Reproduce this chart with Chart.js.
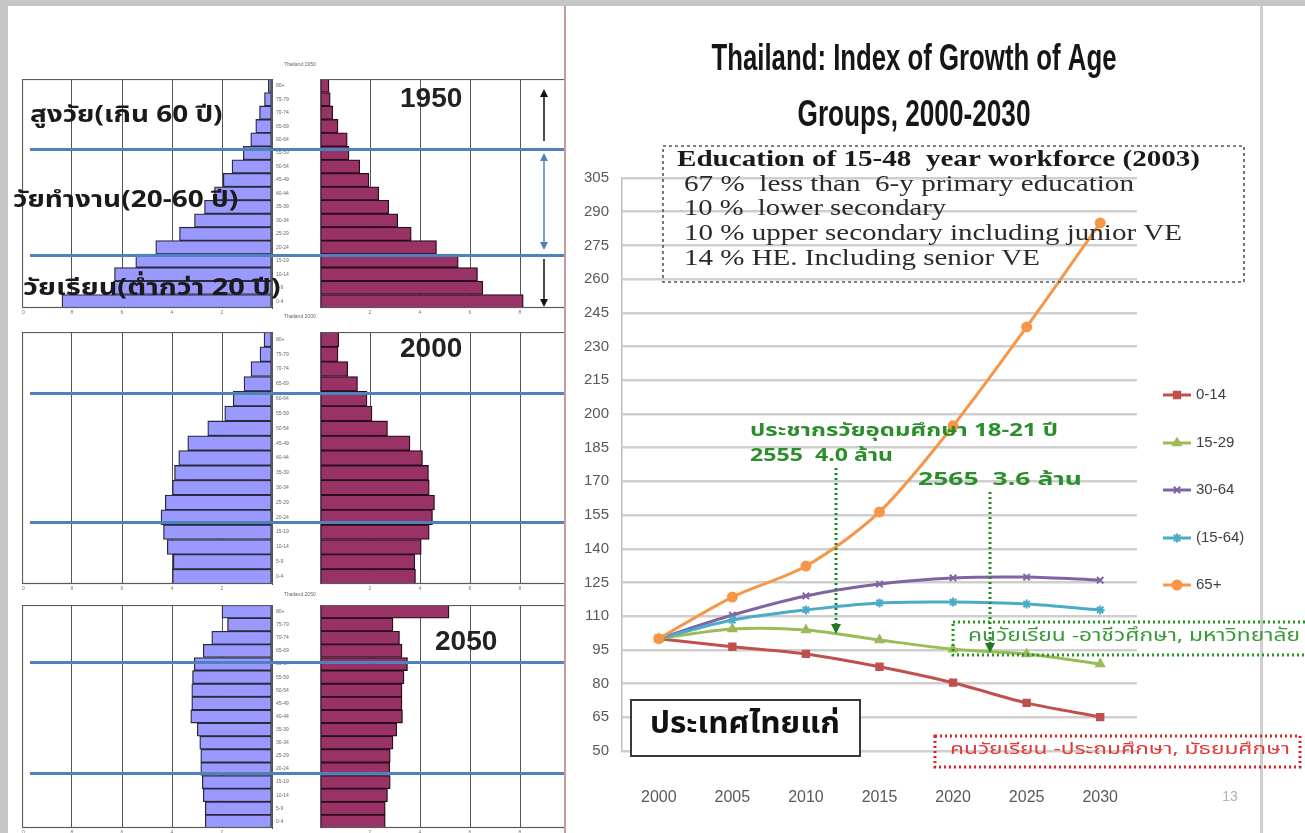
<!DOCTYPE html>
<html><head><meta charset="utf-8">
<script src="https://cdn.jsdelivr.net/npm/chart.js@4.4.0/dist/chart.umd.min.js"></script>
<style>
html,body{margin:0;padding:0;width:1305px;height:833px;overflow:hidden;background:#fff;}
.abs{position:absolute;}
#left{position:absolute;left:0;top:0;width:565px;height:833px;overflow:hidden;background:#fff;}
#topbar{position:absolute;left:0;top:0;width:1305px;height:6px;background:#c6c6c6;z-index:20;}
#leftbar{position:absolute;left:0;top:0;width:8px;height:833px;background:#c6c6c6;z-index:20;}
#divider{position:absolute;left:564px;top:6px;width:2px;height:827px;background:#c79a9a;z-index:20;}
#rborder{position:absolute;left:1260px;top:6px;width:3px;height:827px;background:#cfcfcf;z-index:0;}
.thai{font-family:'Noto Sans Thai','Noto Sans Thai UI','Loma','Garuda','Tlwg Typo','Tahoma',sans-serif;}
.lbl{position:absolute;font-weight:bold;color:#1a1a1a;font-size:23px;line-height:30px;white-space:nowrap;z-index:10;transform-origin:0 50%;}
.yr{position:absolute;font-family:'Liberation Sans',Arial,sans-serif;font-weight:bold;font-size:28px;line-height:30px;color:#222;z-index:10;}
.tiny{position:absolute;font-family:'Liberation Sans',Arial,sans-serif;font-size:5px;color:#666;z-index:10;white-space:nowrap;}
.sep{position:absolute;height:3px;background:#4f81bd;z-index:9;}
</style>
</head><body>
<div id="topbar"></div><div id="leftbar"></div>
<div id="left">
  <canvas id="m1950" class="abs" width="298" height="243" style="left:22px;top:79px"></canvas>
  <canvas id="f1950" class="abs" width="250" height="243" style="left:320px;top:79px"></canvas>
  <canvas id="m2000" class="abs" width="298" height="266" style="left:22px;top:332px"></canvas>
  <canvas id="f2000" class="abs" width="250" height="266" style="left:320px;top:332px"></canvas>
  <canvas id="m2050" class="abs" width="298" height="237" style="left:22px;top:605px"></canvas>
  <canvas id="f2050" class="abs" width="250" height="237" style="left:320px;top:605px"></canvas>

  <div class="tiny" style="left:284px;top:61px">Thailand 1950</div>
  <div class="tiny" style="left:284px;top:313px">Thailand 2000</div>
  <div class="tiny" style="left:284px;top:591px">Thailand 2050</div>

  <div class="sep" style="left:30px;top:148px;width:535px"></div>
  <div class="sep" style="left:30px;top:254px;width:535px"></div>
  <div class="sep" style="left:30px;top:392px;width:535px"></div>
  <div class="sep" style="left:30px;top:521px;width:535px"></div>
  <div class="sep" style="left:30px;top:661px;width:535px"></div>
  <div class="sep" style="left:30px;top:772px;width:535px"></div>

  <div class="lbl thai fit" data-w="193" style="left:30px;top:100px">สูงวัย(เกิน 60 ปี)</div>
  <div class="lbl thai fit" data-w="225" style="left:13px;top:185px">วัยทำงาน(20-60 ปี)</div>
  <div class="lbl thai fit" data-w="258" style="left:23px;top:273px">วัยเรียน(ต่ำกว่า 20 ปี)</div>
  <div class="yr" style="left:400px;top:83px">1950</div>
  <div class="yr" style="left:400px;top:333px">2000</div>
  <div class="yr" style="left:435px;top:626px">2050</div>

  <svg class="abs" style="left:530px;top:85px;z-index:10" width="30" height="226">
    <line x1="14" y1="12" x2="14" y2="56" stroke="#111" stroke-width="1.5"/>
    <polygon points="10,12 18,12 14,4" fill="#111"/>
    <line x1="14" y1="76" x2="14" y2="157" stroke="#4f81bd" stroke-width="1.5"/>
    <polygon points="10,76 18,76 14,68" fill="#4f81bd"/>
    <polygon points="10,157 18,157 14,165" fill="#4f81bd"/>
    <line x1="14" y1="174" x2="14" y2="214" stroke="#111" stroke-width="1.5"/>
    <polygon points="10,214 18,214 14,222" fill="#111"/>
  </svg>
</div>
<div id="divider"></div>
<div id="rborder"></div>
<canvas id="line" class="abs" width="740" height="833" style="left:565px;top:0px;z-index:5"></canvas>

<script>
// ---------- data ----------
const ageGroups = ['80+','75-79','70-74','65-69','60-64','55-59','50-54','45-49','40-44','35-39','30-34','25-29','20-24','15-19','10-14','5-9','0-4'];
const male1950   = [0.15,0.3,0.5,0.65,0.85,1.15,1.6,1.95,2.3,2.7,3.1,3.7,4.65,5.45,6.3,6.35,8.4];
const female1950 = [0.36,0.41,0.51,0.72,1.09,1.16,1.59,1.96,2.35,2.75,3.11,3.65,4.66,5.53,6.3,6.51,8.13];
const male2000   = [0.32,0.48,0.84,1.12,1.55,1.89,2.57,3.37,3.73,3.9,3.98,4.27,4.44,4.34,4.19,3.95,3.98];
const female2000 = [0.75,0.72,1.11,1.5,1.88,2.08,2.7,3.6,4.1,4.34,4.37,4.58,4.5,4.37,4.05,3.79,3.82];
const male2050   = [2.0,1.78,2.41,2.75,3.11,3.18,3.21,3.21,3.25,2.99,2.89,2.85,2.85,2.79,2.75,2.67,2.67];
const female2050 = [5.16,2.92,3.18,3.28,3.5,3.36,3.28,3.28,3.3,3.07,2.92,2.81,2.79,2.81,2.7,2.61,2.61];
const pyramidTicks = [0,2,4,6,8,10];

const years = ['2000','2005','2010','2015','2020','2025','2030'];
const idx0_14  = [100,96.4,93.2,87.5,80.4,71.4,65.1];
const idx15_29 = [100,104.3,103.9,99.4,95.3,93.2,88.7];
const idx30_64 = [100,110.5,119,124.3,127,127.4,126];
const idx15_64 = [100,108.3,112.8,115.9,116.3,115.4,112.8];
const idx65    = [100,118.5,132.3,156.4,194.7,238.7,285];
const seriesNames = ['0-14','15-29','30-64','(15-64)','65+'];
const indexTicks = [50,65,80,95,110,125,140,155,170,185,200,215,230,245,260,275,290,305];

const titleLines = ['Thailand: Index of Growth of Age','Groups, 2000-2030'];
const eduTitle = 'Education of 15-48  year workforce (2003)';
const eduLines = ['67 %  less than  6-y primary education','10 %  lower secondary','10 % upper secondary including junior VE','14 % HE. Including senior VE'];

// fit Thai HTML labels horizontally
document.querySelectorAll('.fit').forEach(el=>{
  const k = parseFloat(el.dataset.w)/el.offsetWidth;
  el.style.transform = 'scaleX('+k.toFixed(3)+')';
});

// ---------- pyramids ----------
const THAI = "'Noto Sans Thai','Noto Sans Thai UI','Loma','Garuda','Tlwg Typo','Tahoma',sans-serif";
const framePlugin = {id:'frame', afterDatasetsDraw(c){const a=c.chartArea,g=c.ctx;g.save();g.strokeStyle='#5a5a5a';g.lineWidth=1.2;g.strokeRect(a.left+0.5,a.top+0.5,a.width-1,a.height-1);g.restore();}};

function pyramidSide(id, values, isMale, areaH){
  const canvas = document.getElementById(id);
  const xHeight = canvas.height - areaH;
  return new Chart(canvas, {
    type:'bar',
    data:{labels:ageGroups, datasets:[{data:values, backgroundColor:isMale?'#9999ff':'#993366', borderColor:isMale?'#2a2a3a':'#2a0c1c', borderWidth:1.3, borderSkipped:false, barPercentage:1, categoryPercentage:1}]},
    options:{
      indexAxis:'y', responsive:false, animation:false,
      layout:{padding:0},
      plugins:{legend:{display:false}, tooltip:{enabled:false}, title:{display:false}},
      scales:{
        x:{reverse:isMale, min:0, max:10,
           afterBuildTicks(s){s.ticks = pyramidTicks.map(v=>({value:v}));},
           ticks:{font:{size:5, family:'Liberation Sans'}, color:'#777', padding:2, callback:v=>v===0?'':String(v)},
           grid:{color:'#555', lineWidth:1, drawTicks:false}, border:{display:false},
           afterFit(s){s.height = xHeight; s.paddingLeft=0; s.paddingRight=0;}},
        y:{display:isMale, position:'right',
           ticks:{font:{size:5, family:'Liberation Sans'}, color:'#666', padding:4, autoSkip:false},
           grid:{display:false, drawTicks:false}, border:{color:'#555'},
           afterFit(s){ if(isMale){ s.width = 48; } s.paddingTop=0; s.paddingBottom=0;}}
      }
    },
    plugins:[framePlugin]
  });
}
pyramidSide('m1950', male1950, true, 229);
pyramidSide('f1950', female1950, false, 229);
pyramidSide('m2000', male2000, true, 252);
pyramidSide('f2000', female2000, false, 252);
pyramidSide('m2050', male2050, true, 223);
pyramidSide('f2050', female2050, false, 223);

// ---------- line chart ----------
const OX = 565; // canvas left offset in page
const X = v => v - OX;
const SANS = "'Liberation Sans',Arial,sans-serif";
const SERIF = "'Liberation Serif','Times New Roman',serif";

// draw text squeezed/stretched horizontally to a given width
function fitText(g, text, x, y, w, align){
  const m = g.measureText(text).width;
  const s = w / m;
  g.save();
  g.textAlign = 'left';
  const left = align==='center' ? x - w/2 : x;
  g.translate(left, y); g.scale(s, 1);
  g.fillText(text, 0, 0);
  g.restore();
}

const titlePlugin = {id:'ttl', afterDraw(c){
  const g=c.ctx; g.save(); g.fillStyle='#161616'; g.textBaseline='middle';
  g.font = "bold 36px "+SANS;
  fitText(g, titleLines[0], X(914), 60, 405, 'center');
  fitText(g, titleLines[1], X(914), 116, 233, 'center');
  g.restore();
}};

const legendPlugin = {id:'lgd', afterDraw(c){
  const g=c.ctx; g.save();
  const ys=[395,443,490,538,585];
  c.data.datasets.forEach((ds,i)=>{
    const y=ys[i];
    g.strokeStyle=ds.borderColor; g.lineWidth=3;
    g.beginPath(); g.moveTo(X(1163),y); g.lineTo(X(1191),y); g.stroke();
    g.fillStyle=ds.borderColor; g.strokeStyle=ds.borderColor; g.lineWidth=2;
    Chart.helpers.drawPoint(g,{pointStyle:ds.pointStyle, radius:4.5, borderWidth:2, rotation:0}, X(1177), y);
    g.fillStyle='#404040'; g.font='15px '+SANS; g.textBaseline='middle'; g.textAlign='left';
    g.fillText(ds.label, X(1196), y);
  });
  g.restore();
}};

function dottedRect(g,x0,y0,x1,y1,color,w,dash){
  g.save(); g.strokeStyle=color; g.lineWidth=w; g.setLineDash(dash);
  g.strokeRect(X(x0),y0,x1-x0,y1-y0); g.restore();
}
const annoPlugin = {id:'anno', afterDraw(c){
  const g=c.ctx; g.save();
  // education box
  dottedRect(g,663,146,1244,282,'#555',1.6,[3,3]);
  g.fillStyle='#1a1a1a'; g.textBaseline='alphabetic';
  g.font="bold 24px "+SERIF;
  fitText(g, eduTitle, X(677), 166, 523);
  g.font="24px "+SERIF; g.fillStyle='#2a2a2a';
  const ly=[191,215,240,265], lw=[450,262,498,356];
  eduLines.forEach((t,i)=>fitText(g, t, X(684), ly[i], lw[i]));
  // green annotation text
  g.fillStyle='#2a8f2a'; g.font='bold 18px '+THAI; g.textBaseline='middle';
  fitText(g,'ประชากรวัยอุดมศึกษา 18-21 ปี', X(750), 432, 308);
  fitText(g,'2555  4.0 ล้าน', X(750), 457, 143);
  fitText(g,'2565  3.6 ล้าน', X(918), 481, 164);
  // dotted arrows
  g.strokeStyle='#1f8a1f'; g.lineWidth=3; g.setLineDash([2,3]);
  g.beginPath(); g.moveTo(X(836),468); g.lineTo(X(836),624); g.stroke();
  g.beginPath(); g.moveTo(X(990),492); g.lineTo(X(990),643); g.stroke();
  g.setLineDash([]); g.fillStyle='#1f7a1f';
  [[836,624],[990,643]].forEach(([x,y])=>{g.beginPath();g.moveTo(X(x)-5,y);g.lineTo(X(x)+5,y);g.lineTo(X(x),y+10);g.closePath();g.fill();});
  // green box
  dottedRect(g,953,622,1312,655,'#1f9a1f',3,[2,3]);
  g.fillStyle='#3a9a3a'; g.font='17px '+THAI; g.textBaseline='middle';
  fitText(g,'คนวัยเรียน -อาชีวศึกษา, มหาวิทยาลัย', X(968), 638, 332);
  // red box
  dottedRect(g,935,736,1300,767,'#e02020',3,[2,3]);
  g.fillStyle='#e03a3a'; g.font='16px '+THAI;
  fitText(g,'คนวัยเรียน -ประถมศึกษา, มัธยมศึกษา', X(950), 751, 340);
  // black box
  g.fillStyle='#fff'; g.fillRect(X(631),700,229,56);
  g.strokeStyle='#3a3a3a'; g.lineWidth=2; g.strokeRect(X(631),700,229,56);
  g.fillStyle='#111'; g.font='bold 30px '+THAI;
  fitText(g,'ประเทศไทยแก่', X(745), 727, 190, 'center');
  // page number
  g.fillStyle='#b0b0b0'; g.font='14px '+SANS; g.textAlign='center';
  g.fillText('13', X(1230), 797);
  g.restore();
}};

const mk = (label,data,color,style,order)=>({label,data,borderColor:color,backgroundColor:color,pointStyle:style,pointRadius:4.5,pointBorderWidth:2,pointBackgroundColor:color,pointBorderColor:color,borderWidth:3,tension:0.3,order});

new Chart(document.getElementById('line'), {
  type:'line',
  data:{labels:years, datasets:[
    mk(seriesNames[0], idx0_14, '#c0504d','rect',4),
    mk(seriesNames[1], idx15_29,'#9bbb59','triangle',3),
    mk(seriesNames[2], idx30_64,'#8064a2','crossRot',2),
    mk(seriesNames[3], idx15_64,'#4bacc6','star',1),
    mk(seriesNames[4], idx65,   '#f79646','circle',0)
  ]},
  options:{
    responsive:false, animation:false,
    layout:{padding:{top:178,right:168,left:0,bottom:0}},
    plugins:{legend:{display:false}, tooltip:{enabled:false}, title:{display:false}},
    scales:{
      x:{offset:true, grid:{display:false, drawTicks:false}, border:{display:false},
         ticks:{font:{family:SANS,size:16}, color:'#595959', padding:37},
         afterFit(s){s.height=82;}},
      y:{min:50, max:305,
         afterBuildTicks(s){s.ticks = indexTicks.map(v=>({value:v}));},
         ticks:{font:{family:SANS,size:15}, color:'#595959', padding:13},
         grid:{color:'#cfcfcf', lineWidth:2.5, drawTicks:false},
         border:{color:'#bdbdbd', width:1.5},
         afterFit(s){s.width=57;}}
    }
  },
  plugins:[titlePlugin, legendPlugin, annoPlugin]
});
</script>
</body></html>
